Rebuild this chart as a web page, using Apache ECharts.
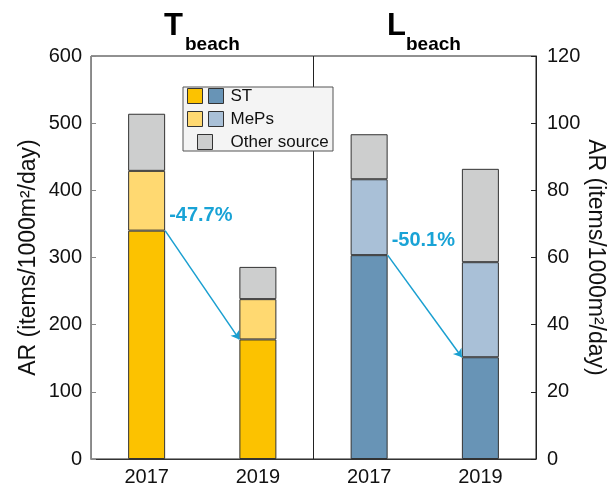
<!DOCTYPE html>
<html lang="en">
<head>
    <meta charset="UTF-8">
    <title>AR beach</title>
    <script src="https://cdn.jsdelivr.net/npm/echarts@6/dist/echarts.min.js"></script>
    <style type="text/css">
    html, body { margin: 0; padding: 0; background: #fff; }
    #main { width: 614px; height: 487px; }
    </style>
</head>
<body>
    <div id="main"></div>
    <script type="text/javascript">
        // data
        var years = ['2017', '2019'];
        var tST = [340, 178];
        var tMePs = [89, 60];
        var tOther = [85, 48];
        var lST = [60.7, 30.3];
        var lMePs = [22.6, 28.3];
        var lOther = [13.4, 27.8];
        var changeLabels = ['-47.7%', '-50.1%'];
        var leftTicks = [0, 600, 100];
        var rightTicks = [0, 120, 20];

        var FONT = 'Liberation Sans, Arial, sans-serif';
        var BAR = 37;
        var ARROW = '#1a9fd0';
        var axisName = 'AR (items/1000m\u00b2/day)';

        var myChart = echarts.init(document.getElementById('main'));

        function barSeries(name, data, color, xi, yi, id) {
            return {
                id: id,
                name: name,
                type: 'bar',
                stack: 'g' + xi,
                xAxisIndex: xi,
                yAxisIndex: yi,
                barWidth: BAR,
                data: data,
                itemStyle: { color: color, borderColor: '#333', borderWidth: 1 }
            };
        }

        function legendItem(left, top, names, fmt, pad) {
            return {
                orient: 'vertical',
                left: left,
                top: top,
                padding: 0,
                itemGap: 3,
                itemWidth: 15,
                itemHeight: 15,
                icon: 'rect',
                selectedMode: false,
                z: 20,
                data: names,
                formatter: fmt,
                itemStyle: { borderColor: '#333', borderWidth: 1 },
                textStyle: { fontFamily: FONT, fontSize: 17, color: '#111', lineHeight: 20, padding: pad }
            };
        }

        function titlePart(text, left, top, size) {
            return {
                text: text, left: left, top: top, padding: 0,
                textStyle: { fontFamily: FONT, fontSize: size, fontWeight: 'bold', color: '#000', lineHeight: size }
            };
        }

        var option = {
            animation: false,
            title: [
                titlePart('T', 164, 11, 31),
                titlePart('beach', 185, 35, 19),
                titlePart('L', 387, 11, 31),
                titlePart('beach', 406, 35, 19)
            ],
            legend: [
                legendItem(187, 86, ['ST', 'MePs'], function () { return ' '; }, [0, 0, 0, 0]),
                legendItem(208, 86, ['ST (L)', 'MePs (L)'], function (n) { return n.replace(' (L)', ''); }, [0, 0, 0, 2]),
                legendItem(197, 132, ['Other source'], function (n) { return n; }, [0, 0, 0, 13])
            ],
            grid: [
                { left: 91, top: 56, width: 222.5, bottom: 25, show: true, borderColor: '#222', borderWidth: 1 },
                { left: 313.5, top: 56, width: 222.5, bottom: 25, show: true, borderColor: '#222', borderWidth: 1 }
            ],
            xAxis: [0, 1].map(function (i) {
                return {
                    type: 'category',
                    gridIndex: i,
                    data: years,
                    axisTick: { show: false },
                    axisLine: { lineStyle: { color: '#333' } },
                    axisLabel: { fontFamily: FONT, fontSize: 20, color: '#111', margin: 8 }
                };
            }),
            yAxis: [{
                type: 'value',
                gridIndex: 0,
                position: 'left',
                min: leftTicks[0],
                max: leftTicks[1],
                interval: leftTicks[2],
                splitLine: { show: false },
                axisLine: { show: true, lineStyle: { color: '#888' } },
                axisTick: { show: true, inside: true, length: 5, lineStyle: { color: '#888' } },
                axisLabel: { fontFamily: FONT, fontSize: 20, color: '#111', margin: 9 },
                name: axisName,
                nameLocation: 'middle',
                nameRotate: 90,
                nameGap: 51,
                nameTextStyle: { fontFamily: FONT, fontSize: 23, color: '#111' }
            }, {
                type: 'value',
                gridIndex: 1,
                position: 'right',
                min: rightTicks[0],
                max: rightTicks[1],
                interval: rightTicks[2],
                splitLine: { show: false },
                axisLine: { show: true, lineStyle: { color: '#222' } },
                axisTick: { show: true, inside: true, length: 5, lineStyle: { color: '#222' } },
                axisLabel: { fontFamily: FONT, fontSize: 20, color: '#111', margin: 11 },
                name: axisName,
                nameLocation: 'middle',
                nameRotate: -90,
                nameGap: 47,
                nameTextStyle: { fontFamily: FONT, fontSize: 23, color: '#111' }
            }],
            graphic: [{
                id: 'legendBox',
                type: 'rect',
                z: 10,
                shape: { x: 183, y: 87, width: 150, height: 64 },
                style: { fill: '#f4f4f4', stroke: '#555', lineWidth: 1 }
            }],
            series: [
                barSeries('ST', tST, '#fcc200', 0, 0, 'tST'),
                barSeries('MePs', tMePs, '#ffd971', 0, 0, 'tMePs'),
                barSeries('Other source', tOther, '#cdcece', 0, 0, 'tOther'),
                barSeries('ST (L)', lST, '#6894b6', 1, 1, 'lST'),
                barSeries('MePs (L)', lMePs, '#a9c0d7', 1, 1, 'lMePs'),
                barSeries('Other source (L)', lOther, '#cdcece', 1, 1, 'lOther')
            ]
        };

        myChart.setOption(option);

        // arrows from the 2017 ST top to the 2019 ST top, placed through the axes
        function arrowFor(idx, stVals) {
            var x1 = myChart.convertToPixel({ xAxisIndex: idx }, years[0]) + BAR / 2;
            var x2 = myChart.convertToPixel({ xAxisIndex: idx }, years[1]) - BAR / 2;
            var y1 = myChart.convertToPixel({ yAxisIndex: idx }, stVals[0]);
            var y2 = myChart.convertToPixel({ yAxisIndex: idx }, stVals[1]);
            return { x1: x1, y1: y1, x2: x2, y2: y2 };
        }

        var arrows = [arrowFor(0, tST), arrowFor(1, lST)];
        var ids = ['tST', 'lST'];

        myChart.setOption({
            series: arrows.map(function (a, i) {
                return {
                    id: ids[i],
                    markLine: {
                        silent: true,
                        symbol: ['none', 'arrow'],
                        symbolSize: 8,
                        label: { show: false },
                        lineStyle: { color: ARROW, width: 1.5, type: 'solid' },
                        data: [[{ x: a.x1, y: a.y1 }, { x: a.x2, y: a.y2 }]]
                    }
                };
            }),
            graphic: arrows.map(function (a, i) {
                return {
                    id: 'pct' + i,
                    type: 'text',
                    z: 30,
                    x: a.x1 + 4,
                    y: a.y1 - 15,
                    style: {
                        text: changeLabels[i],
                        font: 'bold 20px ' + FONT,
                        fill: '#19a3d6',
                        verticalAlign: 'middle'
                    }
                };
            })
        });
    </script>
</body>
</html>
